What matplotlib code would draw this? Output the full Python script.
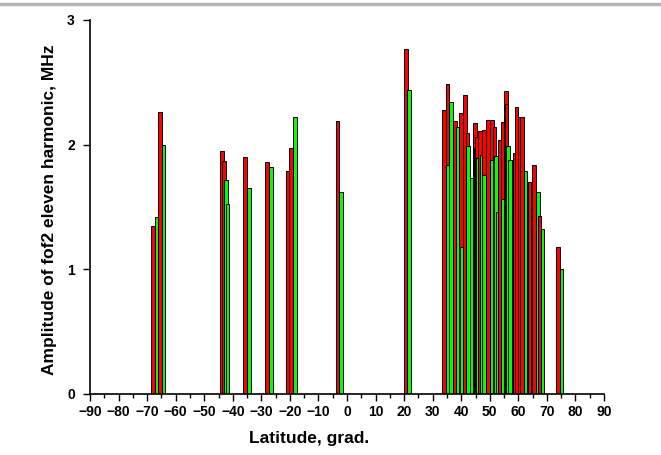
import numpy as np
import matplotlib
matplotlib.use("Agg")
import matplotlib.pyplot as plt
from matplotlib.lines import Line2D

plt.rcParams['font.family'] = ['Liberation Sans', 'DejaVu Sans']
plt.rcParams['font.weight'] = 'bold'

# red series: latitude, amplitude
red_lat = [-67.9, -65.5, -43.8, -43.2, -35.7, -28.0, -20.6, -19.5, -3.3, 20.6,
           33.9, 35.2, 37.7, 40.0, 41.3, 42.2, 44.75, 45.0, 45.3, 46.5,
           48.0, 49.45, 50.8, 51.6, 53.5, 54.6, 55.6, 55.8, 58.5, 58.8,
           59.4, 60.6, 61.2, 63.9, 65.6, 67.4, 73.9]
red_val = [1.35, 2.26, 1.95, 1.87, 1.90, 1.86, 1.79, 1.97, 2.19, 2.77,
           2.28, 2.49, 2.19, 2.25, 2.40, 2.09, 2.17, 1.97, 2.06, 2.11,
           2.12, 2.20, 2.20, 2.14, 2.04, 2.18, 2.43, 2.33, 1.06, 1.93,
           2.30, 2.22, 2.22, 1.70, 1.84, 1.43, 1.18]

# green series: latitude, amplitude
green_lat = [-66.5, -64.3, -42.5, -41.9, -34.3, -26.7, -18.2, -2.0, 21.8,
             35.35, 36.5, 38.9, 40.25, 42.45, 43.6, 45.1, 45.9, 47.1, 48.0,
             49.3, 50.8, 52.2, 52.9, 54.7, 55.9, 56.35, 57.15, 60.5, 61.1,
             62.5, 65.05, 67.0, 68.5, 75.1]
green_val = [1.42, 2.00, 1.72, 1.52, 1.65, 1.82, 2.22, 1.62, 2.44,
             1.84, 2.34, 2.14, 1.18, 1.99, 1.73, 1.81, 1.89, 1.92, 1.76,
             1.68, 1.88, 1.91, 1.46, 1.56, 1.68, 1.99, 1.88, 1.78, 1.73,
             1.79, 1.45, 1.62, 1.32, 1.00]

xticks = np.arange(-90, 91, 10)
yticks = [0, 1, 2, 3]

# combine and sort by latitude so later bars overlap earlier ones
lat = np.array(red_lat + green_lat)
val = np.array(red_val + green_val)
col = np.array(['#ff0000'] * len(red_lat) + ['#00ff00'] * len(green_lat))
order = np.argsort(lat, kind='stable')

fig = plt.figure(figsize=(6.61, 4.55), dpi=100)
ax = fig.add_axes([0.1362, 0.1341, 0.7776, 0.822])

ax.bar(lat[order], val[order], width=1.3, color=col[order],
       edgecolor='black', linewidth=0.7, align='center')

ax.set_xlim(-90, 90)
ax.set_ylim(0, 3)
ax.set_xticks(xticks)
ax.set_xticks(np.arange(-85, 90, 10), minor=True)
ax.set_yticks(yticks)
ax.tick_params(axis='both', which='major', direction='out', length=5,
               width=1, labelsize=10, colors='black')
ax.tick_params(axis='x', which='minor', direction='out', length=3, width=1)
ax.tick_params(axis='x', which='major', pad=3)
ax.tick_params(axis='y', which='major', pad=6)
for lbl in ax.get_xticklabels() + ax.get_yticklabels():
    lbl.set_fontweight('bold')

ax.spines['top'].set_visible(False)
ax.spines['right'].set_visible(False)
ax.spines['left'].set_linewidth(1.2)
ax.spines['bottom'].set_linewidth(1.2)

fig.text(0.468, 0.037, 'Latitude, grad.', ha='center', va='center',
         fontsize=12.5, fontweight='bold')
fig.text(0.0756, 0.538, 'Amplitude of fof2 eleven harmonic, MHz',
         ha='center', va='center', rotation=90, fontsize=12.5,
         fontweight='bold')

# thin grey rule at the top of the image
fig.add_artist(Line2D([0, 1], [1 - 3.5 / 455, 1 - 3.5 / 455],
                      color='#b4b4b4', linewidth=2.5,
                      transform=fig.transFigure))

fig.savefig('out.png', dpi=100)
